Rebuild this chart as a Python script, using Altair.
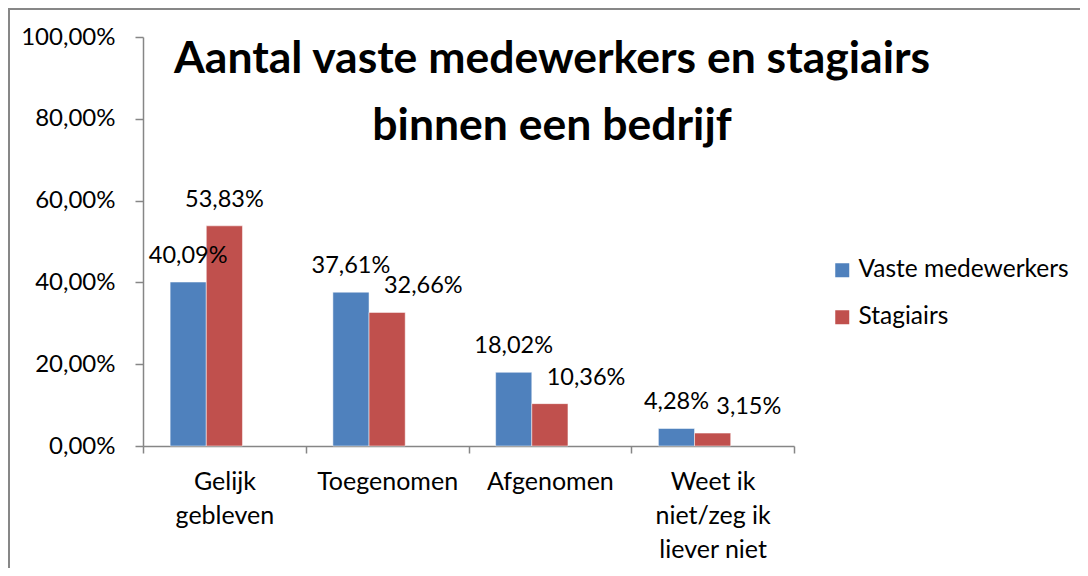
import altair as alt
import pandas as pd

categories = ["Gelijk gebleven", "Toegenomen", "Afgenomen", "Weet ik niet/zeg ik liever niet"]
category_lines = [["Gelijk", "gebleven"], ["Toegenomen"], ["Afgenomen"], ["Weet ik", "niet/zeg ik", "liever niet"]]
series = ["Vaste medewerkers", "Stagiairs"]
vaste = [0.4009, 0.3761, 0.1802, 0.0428]
stagiairs = [0.5383, 0.3266, 0.1036, 0.0315]
title_lines = ["Aantal vaste medewerkers en stagiairs", "binnen een bedrijf"]
y_ticks = [0, 0.2, 0.4, 0.6, 0.8, 1.0]

rows = []
for i, c in enumerate(categories):
    rows.append({"cat": c, "series": series[0], "value": vaste[i]})
    rows.append({"cat": c, "series": series[1], "value": stagiairs[i]})
df = pd.DataFrame(rows)

FONT = "Lato"
AXIS_COLOR = "#868686"
SLOTS = series + ["_"]

# label expression for multi-line category labels
parts = []
for c, lines in zip(categories, category_lines):
    arr = "[" + ",".join("'" + l + "'" for l in lines) + "]"
    parts.append(f"datum.label == '{c}' ? {arr} : ")
label_expr = "".join(parts) + "datum.label"

x_enc = alt.X("cat:N", sort=categories, title=None,
              scale=alt.Scale(paddingInner=0, paddingOuter=0),
              axis=alt.Axis(labelExpr=label_expr, labelAngle=0, labelFont=FONT,
                            labelFontSize=25, labelColor="black", labelLineHeight=34,
                            labelPadding=16, labelBaseline="top",
                            tickBand="extent", tickSize=7, tickColor=AXIS_COLOR,
                            domainColor=AXIS_COLOR, domainWidth=1.5, tickWidth=1.5,
                            grid=False))
xoff_enc = alt.XOffset("series:N",
                       scale=alt.Scale(domain=SLOTS, paddingInner=0, paddingOuter=0.75))
y_enc = alt.Y("value:Q", title=None,
              scale=alt.Scale(domain=[0, 1], nice=False),
              axis=alt.Axis(values=y_ticks,
                            labelExpr="replace(format(datum.value, '.2%'), '.', ',')",
                            labelFont=FONT, labelFontSize=24, labelColor="black",
                            labelPadding=20, tickSize=8, tickColor=AXIS_COLOR,
                            domainColor=AXIS_COLOR, domainWidth=1.5, tickWidth=1.5,
                            grid=False))

color_enc = alt.Color("series:N", title=None,
                      scale=alt.Scale(domain=series, range=["#4F81BD", "#C0504D"]),
                      legend=alt.Legend(orient="none", legendX=687, legendY=221,
                                        symbolType="square", symbolSize=196,
                                        symbolStrokeWidth=0, labelFont=FONT,
                                        labelFontSize=24.5, labelColor="black",
                                        labelOffset=4, labelLimit=0,
                                        rowPadding=22, padding=0))

base = alt.Chart(df)

bars = base.mark_bar(stroke="white", strokeWidth=0.5).encode(
    x=x_enc, xOffset=xoff_enc, y=y_enc, color=color_enc
)

# Stagiairs labels whose bar is lower than the neighbouring bar move into the
# free slot next to it, so that they do not collide with the other label.
labels = base.transform_joinaggregate(
    maxv="max(value)", groupby=["cat"]
).transform_calculate(
    label="replace(format(datum.value, '.2%'), '.', ',')",
    slot=f"datum.series == '{series[1]}' && datum.value < datum.maxv ? '_' : datum.series",
).mark_text(font=FONT, fontSize=23.5, color="black", baseline="alphabetic", dy=-19).encode(
    x=alt.X("cat:N", sort=categories),
    xOffset=alt.XOffset("slot:N"),
    y=alt.Y("value:Q"),
    text="label:N",
)

single = alt.Data(values=[{}])
title = alt.Chart(single).mark_text(
    text=title_lines, font=FONT, fontSize=44.5, fontWeight="bold", color="black",
    align="center", baseline="alphabetic", lineHeight=67
).encode(x=alt.value(409), y=alt.value(36))

border_top = alt.Chart(single).mark_rule(color="#878787", strokeWidth=2).encode(
    x=alt.value(-135), x2=alt.value(937), y=alt.value(-28)
)
border_left = alt.Chart(single).mark_rule(color="#878787", strokeWidth=2).encode(
    x=alt.value(-134), y=alt.value(-29), y2=alt.value(531)
)

chart = alt.layer(bars, labels, title, border_top, border_left).properties(
    width=651, height=409,
    padding={"left": 135, "top": 29, "right": 286, "bottom": 122},
    autosize=alt.AutoSizeParams(type="none"),
    background="white",
).configure_view(stroke=None)

chart.save("out.html", embed_options={"renderer": "svg", "actions": False})
